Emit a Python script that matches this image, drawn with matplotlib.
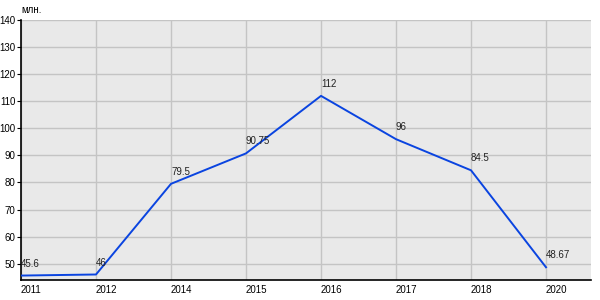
"""
Line chart of yearly values (млн.)
"""

import matplotlib
matplotlib.use("Agg")
import matplotlib.pyplot as plt

years = ["2011", "2012", "2014", "2015", "2016", "2017", "2018", "2020"]
values = [45.6, 46, 79.5, 90.75, 112, 96, 84.5, 48.67]
value_labels = ["45.6", "46", "79.5", "90.75", "112", "96", "84.5", "48.67"]
y_ticks = [50, 60, 70, 80, 90, 100, 110, 120, 130, 140]

plt.rcParams["font.family"] = ["Liberation Sans", "DejaVu Sans"]

fig = plt.figure(figsize=(6, 3), dpi=100)
ax = fig.add_axes([0.035, 0.067, 0.95, 0.866])
ax.set_facecolor("#e9e9e9")

x = list(range(len(years)))
ax.plot(x, values, color="#0a44e0", linewidth=1.4, zorder=3)

# value labels just above each point
for xi, v, lab in zip(x, values, value_labels):
    ax.annotate(lab, (xi, v), xytext=(0, 5), textcoords="offset points",
                fontsize=7, color="#222222", ha="left", va="bottom", zorder=4)

ax.set_xlim(0, 7.6)
ax.set_ylim(44, 140)
ax.set_xticks(x)
ax.set_xticklabels(years, ha="left")
ax.set_yticks(y_ticks)

ax.grid(True, color="#c4c4c4", linewidth=1)
ax.set_axisbelow(True)

for side in ["top", "right"]:
    ax.spines[side].set_visible(False)
for side in ["left", "bottom"]:
    ax.spines[side].set_color("black")
    ax.spines[side].set_linewidth(1.2)

ax.tick_params(axis="both", labelsize=7, colors="black", length=3, width=0.8, pad=1)
ax.tick_params(axis="x", length=0, pad=4)

ax.text(0.0, 1.02, "млн.", transform=ax.transAxes, fontsize=7,
        ha="left", va="bottom")

fig.savefig("out.png", dpi=100)
plt.close(fig)
